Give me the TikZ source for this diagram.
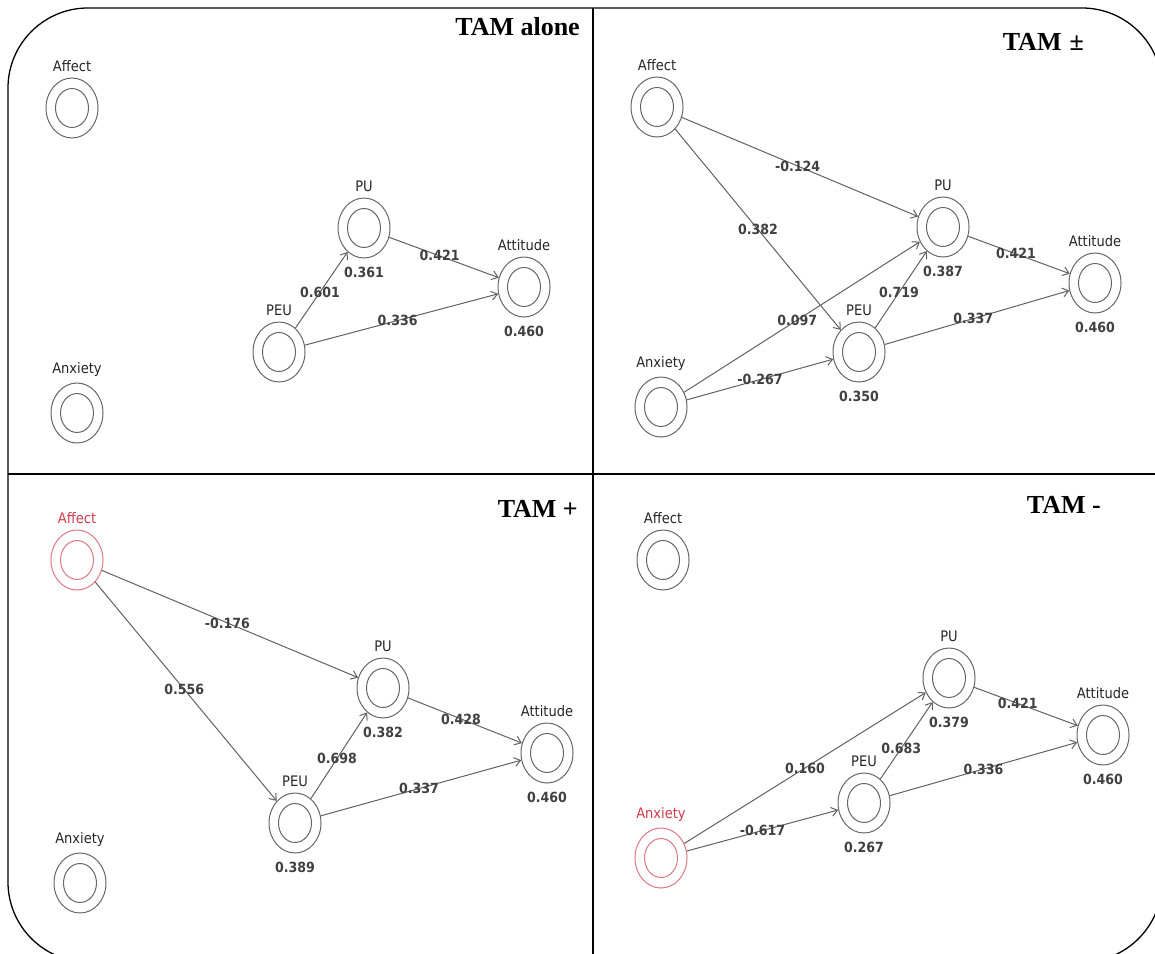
\documentclass[tikz,border=0pt]{standalone}
\usepackage{fontspec}
\setmainfont{Liberation Serif}
\newfontfamily\dv{DejaVu Sans Condensed}[BoldFont={DejaVu Sans Condensed Bold}]
\usetikzlibrary{shapes.geometric,arrows.meta}
\definecolor{pred}{RGB}{205,60,75}
\definecolor{pcirc}{RGB}{222,120,132}
\begin{document}
\begin{tikzpicture}[x=1pt,y=-1pt,
  lv/.style={draw=black!60, line width=1pt, ellipse, minimum width=52pt, minimum height=60pt, inner sep=0pt,
    path picture={\draw[black!60, line width=1pt] (path picture bounding box.center) ellipse [x radius=16.5pt, y radius=19.5pt];}},
  lvred/.style={draw=pcirc, line width=1pt, ellipse, minimum width=52pt, minimum height=60pt, inner sep=0pt,
    path picture={\draw[pcirc, line width=1pt] (path picture bounding box.center) ellipse [x radius=16.5pt, y radius=19.5pt];}},
  nm/.style={font=\dv\fontsize{14.5}{14.5}\selectfont, text=black!85, inner sep=0pt, yshift=6pt},
  nmred/.style={font=\dv\fontsize{14.5}{14.5}\selectfont, text=pred, inner sep=0pt, yshift=6pt},
  vl/.style={font=\dv\bfseries\fontsize{14}{14}\selectfont, text=black!75, inner sep=0pt, yshift=-8pt},
  el/.style={font=\dv\bfseries\fontsize{14}{14}\selectfont, text=black!75, inner sep=0pt},
  conn/.style={draw=black!62, line width=1pt, -{Straight Barb[length=6pt,width=9pt]}},
  ttl/.style={font=\fontsize{26}{26}\selectfont\bfseries, inner sep=0pt, anchor=base east},
  frm/.style={line width=1.3pt, black},
]
\useasboundingbox (0,0) rectangle (1155,953);
\begin{scope}
\clip (0,0) rectangle (1155,953);
\draw[frm, rounded corners=80pt] (8,8) rectangle (1162,962);
\draw[frm, line width=1.6pt] (593,8) -- (593,962);
\draw[frm, line width=1.6pt] (8,474) -- (1162,474);
\end{scope}

% titles
\node[ttl] (t1) at (580,35) {TAM alone};
\node[ttl] (t2) at (1084,50) {TAM\hspace{8pt}\textpm};
\node[ttl] (t3) at (578,517) {TAM +};
\node[ttl] (t4) at (1101,513) {TAM -};

% Q1: TAM alone
\node[lv, label={[nm]above:Affect}] (a1) at (72,108) {};
\node[lv, label={[nm]above:Anxiety}] (x1) at (77,413) {};
\node[lv, label={[nm]above:PU}, label={[vl]below:0.361}] (pu1) at (364,228) {};
\node[lv, label={[nm]above:PEU}] (peu1) at (279,352) {};
\node[lv, label={[nm]above:Attitude}, label={[vl]below:0.460}] (at1) at (524,287) {};
\draw[conn] (peu1) -- node[el,pos=.47]{0.601} (pu1);
\draw[conn] (pu1) -- node[el,pos=.46]{0.421} (at1);
\draw[conn] (peu1) -- node[el,pos=.48]{0.336} (at1);

% Q2: TAM +-
\node[lv, label={[nm]above:Affect}] (a2) at (657,107) {};
\node[lv, label={[nm]above:Anxiety}] (x2) at (661,407) {};
\node[lv, label={[nm]above:PU}, label={[vl]below:0.387}] (pu2) at (943,227) {};
\node[lv, label={[nm]above:PEU}, label={[vl]below:0.350}] (peu2) at (859,352) {};
\node[lv, label={[nm]above:Attitude}, label={[vl]below:0.460}] (at2) at (1095,283) {};
\draw[conn] (a2) -- node[el,pos=.49]{-0.124} (pu2);
\draw[conn] (a2) -- node[el,pos=.50]{0.382} (peu2);
\draw[conn] (x2) -- node[el,pos=.48]{0.097} (pu2);
\draw[conn] (x2) -- node[el,pos=.50]{-0.267} (peu2);
\draw[conn] (peu2) -- node[el,pos=.46]{0.719} (pu2);
\draw[conn] (pu2) -- node[el,pos=.47]{0.421} (at2);
\draw[conn] (peu2) -- node[el,pos=.48]{0.337} (at2);

% Q3: TAM +
\node[lvred, label={[nmred]above:Affect}] (a3) at (77,560) {};
\node[lv, label={[nm]above:Anxiety}] (x3) at (80,883) {};
\node[lv, label={[nm]above:PU}, label={[vl]below:0.382}] (pu3) at (383,688) {};
\node[lv, label={[nm]above:PEU}, label={[vl]below:0.389}] (peu3) at (295,823) {};
\node[lv, label={[nm]above:Attitude}, label={[vl]below:0.460}] (at3) at (547,753) {};
\draw[conn] (a3) -- node[el,pos=.49]{-0.176} (pu3);
\draw[conn] (a3) -- node[el,pos=.49]{0.556} (peu3);
\draw[conn] (peu3) -- node[el,pos=.465]{0.698} (pu3);
\draw[conn] (pu3) -- node[el,pos=.465]{0.428} (at3);
\draw[conn] (peu3) -- node[el,pos=.49]{0.337} (at3);

% Q4: TAM -
\node[lv, label={[nm]above:Affect}] (a4) at (663,560) {};
\node[lvred, label={[nmred]above:Anxiety}] (x4) at (661,858) {};
\node[lv, label={[nm]above:PU}, label={[vl]below:0.379}] (pu4) at (949,678) {};
\node[lv, label={[nm]above:PEU}, label={[vl]below:0.267}] (peu4) at (864,803) {};
\node[lv, label={[nm]above:Attitude}, label={[vl]below:0.460}] (at4) at (1103,735) {};
\draw[conn] (x4) -- node[el,pos=.50]{0.160} (pu4);
\draw[conn] (x4) -- node[el,pos=.50]{-0.617} (peu4);
\draw[conn] (peu4) -- node[el,pos=.40]{0.683} (pu4);
\draw[conn] (pu4) -- node[el,pos=.42]{0.421} (at4);
\draw[conn] (peu4) -- node[el,pos=.50]{0.336} (at4);
\end{tikzpicture}
\end{document}
